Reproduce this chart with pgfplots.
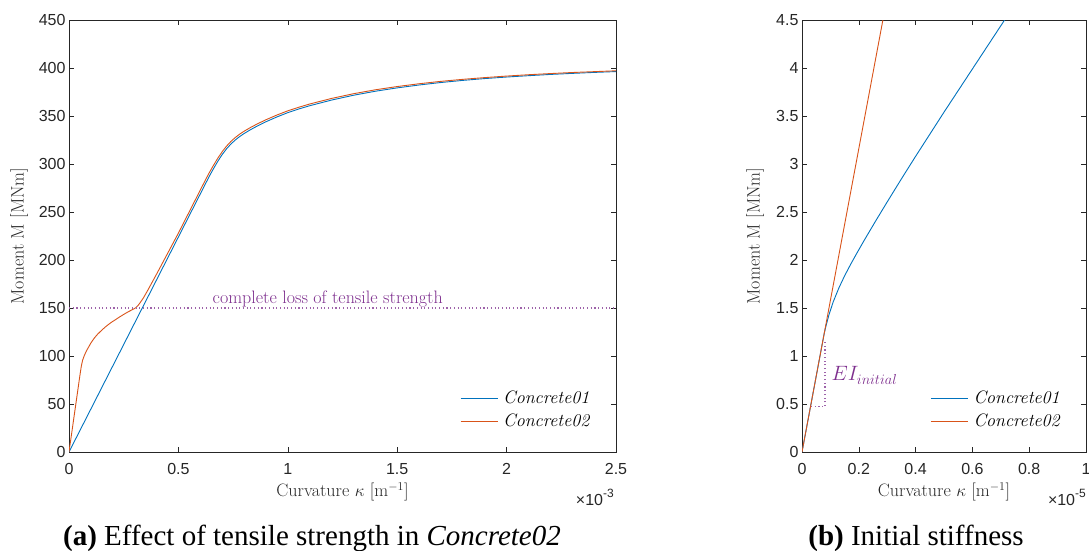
\documentclass[border=0pt]{standalone}
\usepackage{fontspec}
\usepackage{pgfplots}
\pgfplotsset{compat=1.18}
\newfontfamily\arialf{Liberation Sans}
\newfontfamily\timesf{Liberation Serif}
\definecolor{mblue}{rgb}{0,0.447,0.741}
\definecolor{morange}{rgb}{0.85,0.325,0.098}
\definecolor{mpurple}{rgb}{0.494,0.184,0.556}
\definecolor{maxis}{rgb}{0.15,0.15,0.15}
\pgfplotsset{mstyle/.style={
  scale only axis,
  axis line style={maxis, line width=0.6pt},
  tick style={maxis, line width=0.6pt},
  tick align=inside, major tick length=5pt,
  ticklabel style={font=\arialf\fontsize{16}{19}\selectfont, text=maxis},
  xticklabel style={yshift=-8pt},
  /pgf/number format/assume math mode=true,
  scaled ticks=false,
  label style={font=\fontsize{18}{21}\selectfont, text=maxis},
  xlabel style={at={(axis description cs:0.5,-0.0919)}, anchor=center},
  every axis legend/.style={shape=rectangle, draw=none, fill=none,
    cells={anchor=west}, font=\fontsize{18}{21}\selectfont,
    inner sep=0pt, row sep=3.7pt,
    nodes={inner sep=1pt, text height=13pt, text depth=4pt},
    /tikz/every odd column/.append style={column sep=4pt}},
  legend image code/.code={\draw[##1, line width=1.3pt] (0pt,0.5pt) -- (37pt,0.5pt);},
  every axis plot/.append style={line width=0.9pt},
}}
\begin{document}
\begin{tikzpicture}
\begin{axis}[mstyle,
  at={(69pt,-452pt)}, anchor=south west,
  width=547pt, height=432pt,
  xmin=0, xmax=2.5, ymin=0, ymax=450,
  xtick={0,0.5,1,1.5,2,2.5},
  ytick={0,50,100,150,200,250,300,350,400,450},
  xlabel={Curvature $\kappa$ [m$^{-1}$]},
  ylabel={Moment M [MNm]},
  ylabel style={at={(axis description cs:-0.0914,0.5)}, anchor=center},
  legend style={at={(axis description cs:0.7143,0.1451)}, anchor=north west},
]
\addplot[color=mblue] coordinates {
(0,0) (0.5,224) (0.6,268.8) (0.64,286.7) (0.66,295) (0.68,302.8) (0.70,309.8) (0.72,315.8)
(0.74,320.8) (0.76,325) (0.78,328.6) (0.80,331.7) (0.83,335.8) (0.86,339.5) (0.90,344)
(0.95,349) (1.0,353.5) (1.05,357.3) (1.1,360.7) (1.2,366.6) (1.3,371.6) (1.4,375.8)
(1.5,379.3) (1.6,382.3) (1.7,384.9) (1.8,387.1) (1.9,389) (2.0,390.6) (2.1,392)
(2.2,393.3) (2.3,394.4) (2.4,395.4) (2.5,396.3)};
\addlegendentry{\textit{Concrete01}}
\addplot[color=morange] coordinates {
(0,0) (0.01,16) (0.02,32) (0.03,48) (0.04,64) (0.05,80) (0.056,89) (0.062,95.5) (0.07,100.5)
(0.08,105.5) (0.09,109.5) (0.1,113.5) (0.115,118.5) (0.13,122.5) (0.15,127) (0.17,131)
(0.19,134.5) (0.21,137.5) (0.23,140.5) (0.25,143.3) (0.27,146) (0.29,148.3) (0.305,150.2)
(0.315,152.5) (0.325,155.5) (0.34,160.5) (0.36,168.5) (0.4,185.2) (0.5,228) (0.6,272.8)
(0.62,281.8) (0.64,290.5) (0.66,298.5) (0.68,306) (0.7,312.8) (0.72,318.6) (0.74,323.5)
(0.76,327.6) (0.78,331.1) (0.8,334.1) (0.83,338.1) (0.86,341.7) (0.9,346.1) (0.95,351)
(1.0,355.4) (1.05,359.1) (1.1,362.5) (1.2,368.3) (1.3,373.2) (1.4,377.3) (1.5,380.7)
(1.6,383.6) (1.7,386.1) (1.8,388.2) (1.9,390) (2.0,391.6) (2.1,393) (2.2,394.2)
(2.3,395.3) (2.4,396.2) (2.5,397.1)};
\addlegendentry{\textit{Concrete02}}
\addplot[mpurple!75, line width=1.1pt, dash pattern=on 1.1pt off 2.6pt, forget plot]
  coordinates {(0,150) (2.5,150)};
\node[anchor=base west, inner sep=0pt, text=mpurple, font=\fontsize{18}{21}\selectfont]
  at (axis cs:0.656,155.2) {complete loss of tensile strength};
\end{axis}

\begin{axis}[mstyle,
  at={(802pt,-452pt)}, anchor=south west,
  width=284pt, height=432pt,
  xmin=0, xmax=1, ymin=0, ymax=4.5,
  xtick={0,0.2,0.4,0.6,0.8,1},
  ytick={0,0.5,1,1.5,2,2.5,3,3.5,4,4.5},
  xlabel={Curvature $\kappa$ [m$^{-1}$]},
  ylabel={Moment M [MNm]},
  ylabel style={at={(axis description cs:-0.1655,0.5)}, anchor=center},
  legend style={at={(axis description cs:0.4507,0.1451)}, anchor=north west},
]
\addplot[color=mblue] coordinates {
(0,0) (0.078,1.232) (0.085,1.32) (0.095,1.43) (0.11,1.565) (0.13,1.71) (0.15,1.835)
(0.17,1.948) (0.19,2.055) (0.22,2.21) (0.26,2.41) (0.3,2.605) (0.35,2.845) (0.4,3.08)
(0.5,3.54) (0.6,3.99) (0.72,4.53) (0.76,4.71)};
\addlegendentry{\textit{Concrete01}}
\addplot[color=morange] coordinates {(0,0) (0.3,4.74)};
\addlegendentry{\textit{Concrete02}}
\addplot[mpurple!75, line width=1.1pt, dash pattern=on 1.1pt off 2.6pt, forget plot]
  coordinates {(0.032,0.47) (0.081,0.47) (0.081,1.17)};
\node[anchor=base west, inner sep=0pt, text=mpurple, font=\fontsize{20}{24}\selectfont]
  at (axis cs:0.104,0.74) {$EI_{initial}$};
\end{axis}

\node[anchor=base east, inner sep=0pt, text=maxis, font=\arialf\fontsize{16}{19}\selectfont]
  at (614pt,-505pt) {×10\raisebox{0.5em}{\fontsize{12}{14}\selectfont -3}};
\node[anchor=base east, inner sep=0pt, text=maxis, font=\arialf\fontsize{16}{19}\selectfont]
  at (1086pt,-505pt) {×10\raisebox{0.5em}{\fontsize{12}{14}\selectfont -5}};
\node[anchor=base, inner sep=0pt, font=\timesf\fontsize{29}{34}\selectfont]
  at (312pt,-545pt) {\textbf{(a)} Effect of tensile strength in \textit{Concrete02}};
\node[anchor=base, inner sep=0pt, font=\timesf\fontsize{29}{34}\selectfont]
  at (916pt,-545pt) {\textbf{(b)} Initial stiffness};
\pgfresetboundingbox
\path[use as bounding box] (0pt,0pt) rectangle (1089pt,-551pt);
\end{tikzpicture}
\end{document}
